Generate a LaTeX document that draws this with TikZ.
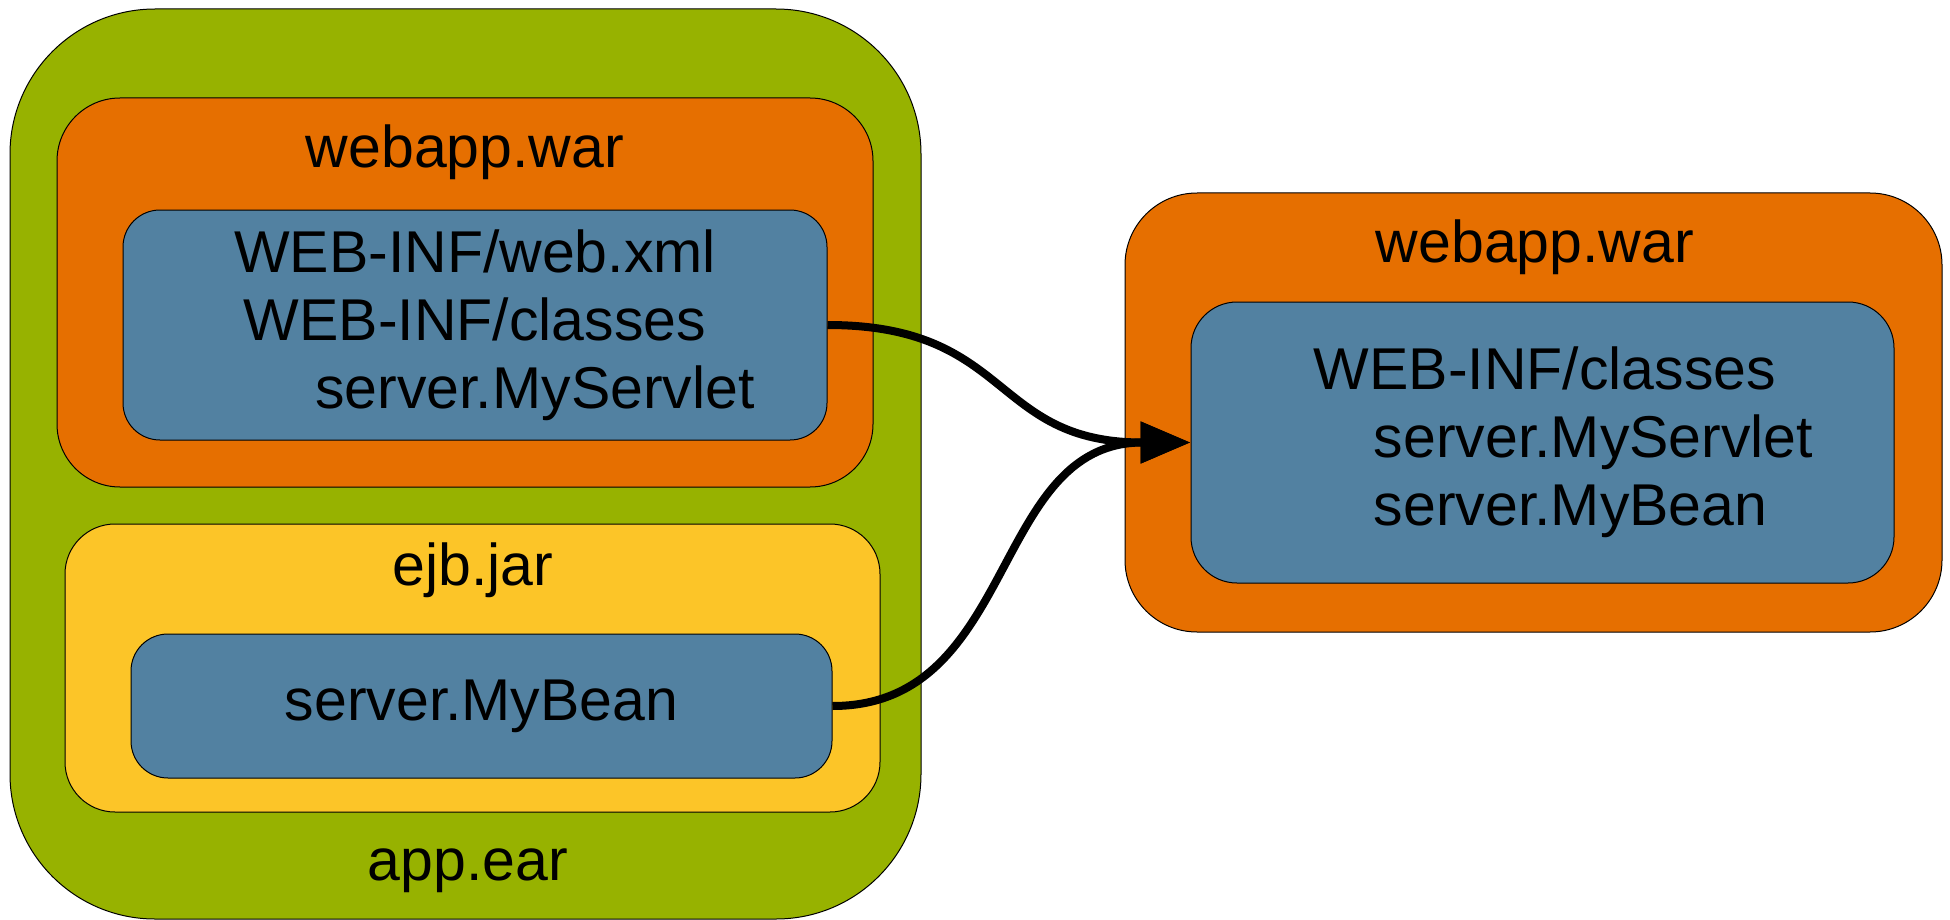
\documentclass[tikz,border=0pt]{standalone}
\usepackage{fontspec}
\setmainfont{Liberation Sans}
\usetikzlibrary{arrows.meta}
\definecolor{eargreen}{HTML}{97B200}
\definecolor{warorange}{HTML}{E66F00}
\definecolor{jaryellow}{HTML}{FCC528}
\definecolor{clsblue}{HTML}{5281A1}

\begin{document}
\begin{tikzpicture}[x=.5pt,y=-.5pt,>={Triangle[length=25pt,width=20pt]},
  font=\fontsize{29.5}{34}\selectfont,
  box/.style={draw=black,line width=.5pt,inner sep=0pt,rounded corners=#1},
  link/.style={->,line width=4pt}]
\useasboundingbox (0,0) rectangle (1950,920);

\node[box=72.5pt,fill=eargreen,minimum width=455.5pt,minimum height=455pt] (ear) at (465.5,464) {};
\node[box=31.5pt,fill=warorange,minimum width=408pt,minimum height=194.5pt] (war1) at (465,292.5) {};
\node[box=18.5pt,fill=clsblue,minimum width=352pt,minimum height=115pt,align=center] (web1) at (475,325)
  {WEB-INF/web.xml\\WEB-INF/classes\\\hspace*{60pt}server.MyServlet};
\node[box=25pt,fill=jaryellow,minimum width=407.5pt,minimum height=144pt] (jar) at (472.5,668) {};
\node[box=18.5pt,fill=clsblue,minimum width=350.5pt,minimum height=72pt] (bean1) at (481.5,706) {server.MyBean};

\node (war1lbl) at (465,152) {webapp.war};
\node (jarlbl) at (473,570) {ejb.jar};
\node (earlbl) at (468,871) {app.ear};

\node[box=36pt,fill=warorange,minimum width=408.5pt,minimum height=219.5pt] (war2) at (1533.5,412.5) {};
\node[box=23pt,fill=clsblue,minimum width=351.5pt,minimum height=140.5pt,align=left] (web2) at (1542.5,442.5)
  {\hspace*{21pt}WEB-INF/classes\\\hspace*{51pt}server.MyServlet\\\hspace*{51pt}server.MyBean};
\node (war2lbl) at (1535,247) {webapp.war};

\draw[link] (web1.east) .. controls +(185,0) and +(-200,0) .. (web2.west);
\draw[link] (bean1.east) .. controls +(185,0) and +(-200,0) .. (web2.west);
\end{tikzpicture}
\end{document}
